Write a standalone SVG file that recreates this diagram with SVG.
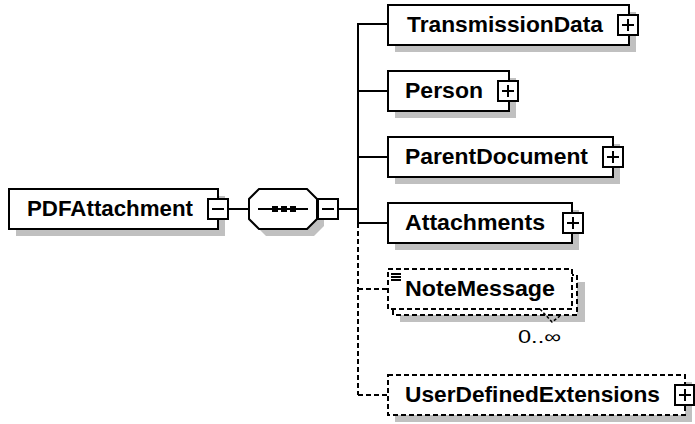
<svg xmlns="http://www.w3.org/2000/svg" width="695" height="424" viewBox="0 0 695 424">
<style>
.box{fill:#fff;stroke:#000;stroke-width:2}
.dbox{fill:#fff;stroke:#000;stroke-width:2;stroke-dasharray:5,3}
.sh{fill:#c0c0c0;stroke:none}
.lbl{font-family:"Liberation Sans",Arial,sans-serif;font-weight:bold;font-size:22px;fill:#000}
.pm{fill:#fff;stroke:#000;stroke-width:2}
.pml{stroke:#000;stroke-width:2;fill:none}
.conn{stroke:#000;stroke-width:2;fill:none}
.dconn{stroke:#000;stroke-width:2;fill:none;stroke-dasharray:5,3}
.occ{font-family:"Liberation Sans",Arial,sans-serif;font-size:18px;fill:#000}
</style>
<g id="connectors">
<line class="conn" x1="228" y1="209" x2="249" y2="209"/>
<line class="conn" x1="338" y1="209" x2="358" y2="209"/>
<line class="conn" x1="358" y1="24" x2="358" y2="223"/>
<line class="dconn" x1="358" y1="223" x2="358" y2="395"/>
<line class="conn" x1="357" y1="24" x2="388" y2="24"/>
<line class="conn" x1="358" y1="91" x2="388" y2="91"/>
<line class="conn" x1="358" y1="157" x2="388" y2="157"/>
<line class="conn" x1="358" y1="223" x2="388" y2="223"/>
<line class="dconn" x1="358" y1="289" x2="388" y2="289"/>
<line class="dconn" x1="358" y1="395" x2="388" y2="395"/>
</g>
<g id="PDFAttachment">
<rect class="sh" x="16" y="196" width="209" height="40"/>
<rect class="box" x="9" y="189" width="209" height="40"/>
<text class="lbl" x="27" y="216" textLength="166" lengthAdjust="spacingAndGlyphs">PDFAttachment</text>
<rect class="pm" x="208" y="199" width="20" height="20"/>
<line class="pml" x1="212" y1="209" x2="224" y2="209"/>
</g>
<g id="sequence">
<polygon class="sh" points="266,196 314,196 324,206 324,226 314,236 266,236 256,226 256,206"/>
<polygon class="box" points="259,189 307,189 317,199 317,219 307,229 259,229 249,219 249,199"/>
<line class="conn" x1="258" y1="209" x2="308" y2="209"/>
<rect x="272" y="206" width="6" height="6" fill="#000"/>
<rect x="281" y="206" width="6" height="6" fill="#000"/>
<rect x="290" y="206" width="6" height="6" fill="#000"/>
<rect class="pm" x="318" y="199" width="20" height="20"/>
<line class="pml" x1="322" y1="209" x2="334" y2="209"/>
</g>
<g id="TransmissionData">
<rect class="sh" x="395" y="12" width="241" height="40"/>
<rect class="box" x="388" y="5" width="241" height="40"/>
<text class="lbl" x="407" y="32" textLength="196" lengthAdjust="spacingAndGlyphs">TransmissionData</text>
<rect class="pm" x="618" y="15" width="20" height="20"/>
<line class="pml" x1="622" y1="25" x2="634" y2="25"/>
<line class="pml" x1="628" y1="19" x2="628" y2="31"/>
</g>
<g id="Person">
<rect class="sh" x="395" y="78" width="121" height="40"/>
<rect class="box" x="388" y="71" width="121" height="40"/>
<text class="lbl" x="405" y="98" textLength="78" lengthAdjust="spacingAndGlyphs">Person</text>
<rect class="pm" x="498" y="81" width="20" height="20"/>
<line class="pml" x1="502" y1="91" x2="514" y2="91"/>
<line class="pml" x1="508" y1="85" x2="508" y2="97"/>
</g>
<g id="ParentDocument">
<rect class="sh" x="395" y="144" width="225" height="40"/>
<rect class="box" x="388" y="137" width="225" height="40"/>
<text class="lbl" x="405" y="164" textLength="183" lengthAdjust="spacingAndGlyphs">ParentDocument</text>
<rect class="pm" x="603" y="147" width="20" height="20"/>
<line class="pml" x1="607" y1="157" x2="619" y2="157"/>
<line class="pml" x1="613" y1="151" x2="613" y2="163"/>
</g>
<g id="Attachments">
<rect class="sh" x="395" y="210" width="184" height="40"/>
<rect class="box" x="388" y="203" width="184" height="40"/>
<text class="lbl" x="405" y="230" textLength="140" lengthAdjust="spacingAndGlyphs">Attachments</text>
<rect class="pm" x="563" y="213" width="20" height="20"/>
<line class="pml" x1="567" y1="223" x2="579" y2="223"/>
<line class="pml" x1="573" y1="217" x2="573" y2="229"/>
</g>
<g id="NoteMessage">
<rect class="sh" x="400" y="282" width="185" height="40"/>
<rect class="dbox" x="393" y="275" width="184" height="40"/>
<rect class="dbox" x="388" y="269" width="184" height="40"/>
<line class="pml" x1="391" y1="274" x2="401" y2="274" stroke-width="1.5"/>
<line class="pml" x1="391" y1="277" x2="401" y2="277" stroke-width="1.5"/>
<line class="pml" x1="391" y1="280" x2="401" y2="280" stroke-width="1.5"/>
<text class="lbl" x="405" y="296" textLength="150" lengthAdjust="spacingAndGlyphs">NoteMessage</text>
<polyline points="540,309 552,322 560,316" fill="none" stroke="#000" stroke-width="1.5" stroke-dasharray="3,2"/>
<text class="occ" x="518" y="343" textLength="43" lengthAdjust="spacingAndGlyphs">0..∞</text>
</g>
<g id="UserDefinedExtensions">
<rect class="sh" x="395" y="382" width="297" height="40"/>
<rect class="dbox" x="388" y="375" width="297" height="40"/>
<text class="lbl" x="405" y="402" textLength="255" lengthAdjust="spacingAndGlyphs">UserDefinedExtensions</text>
<rect class="pm" x="675" y="385" width="19" height="20"/>
<line class="pml" x1="679" y1="395" x2="691" y2="395"/>
<line class="pml" x1="685" y1="389" x2="685" y2="401"/>
</g>
</svg>
